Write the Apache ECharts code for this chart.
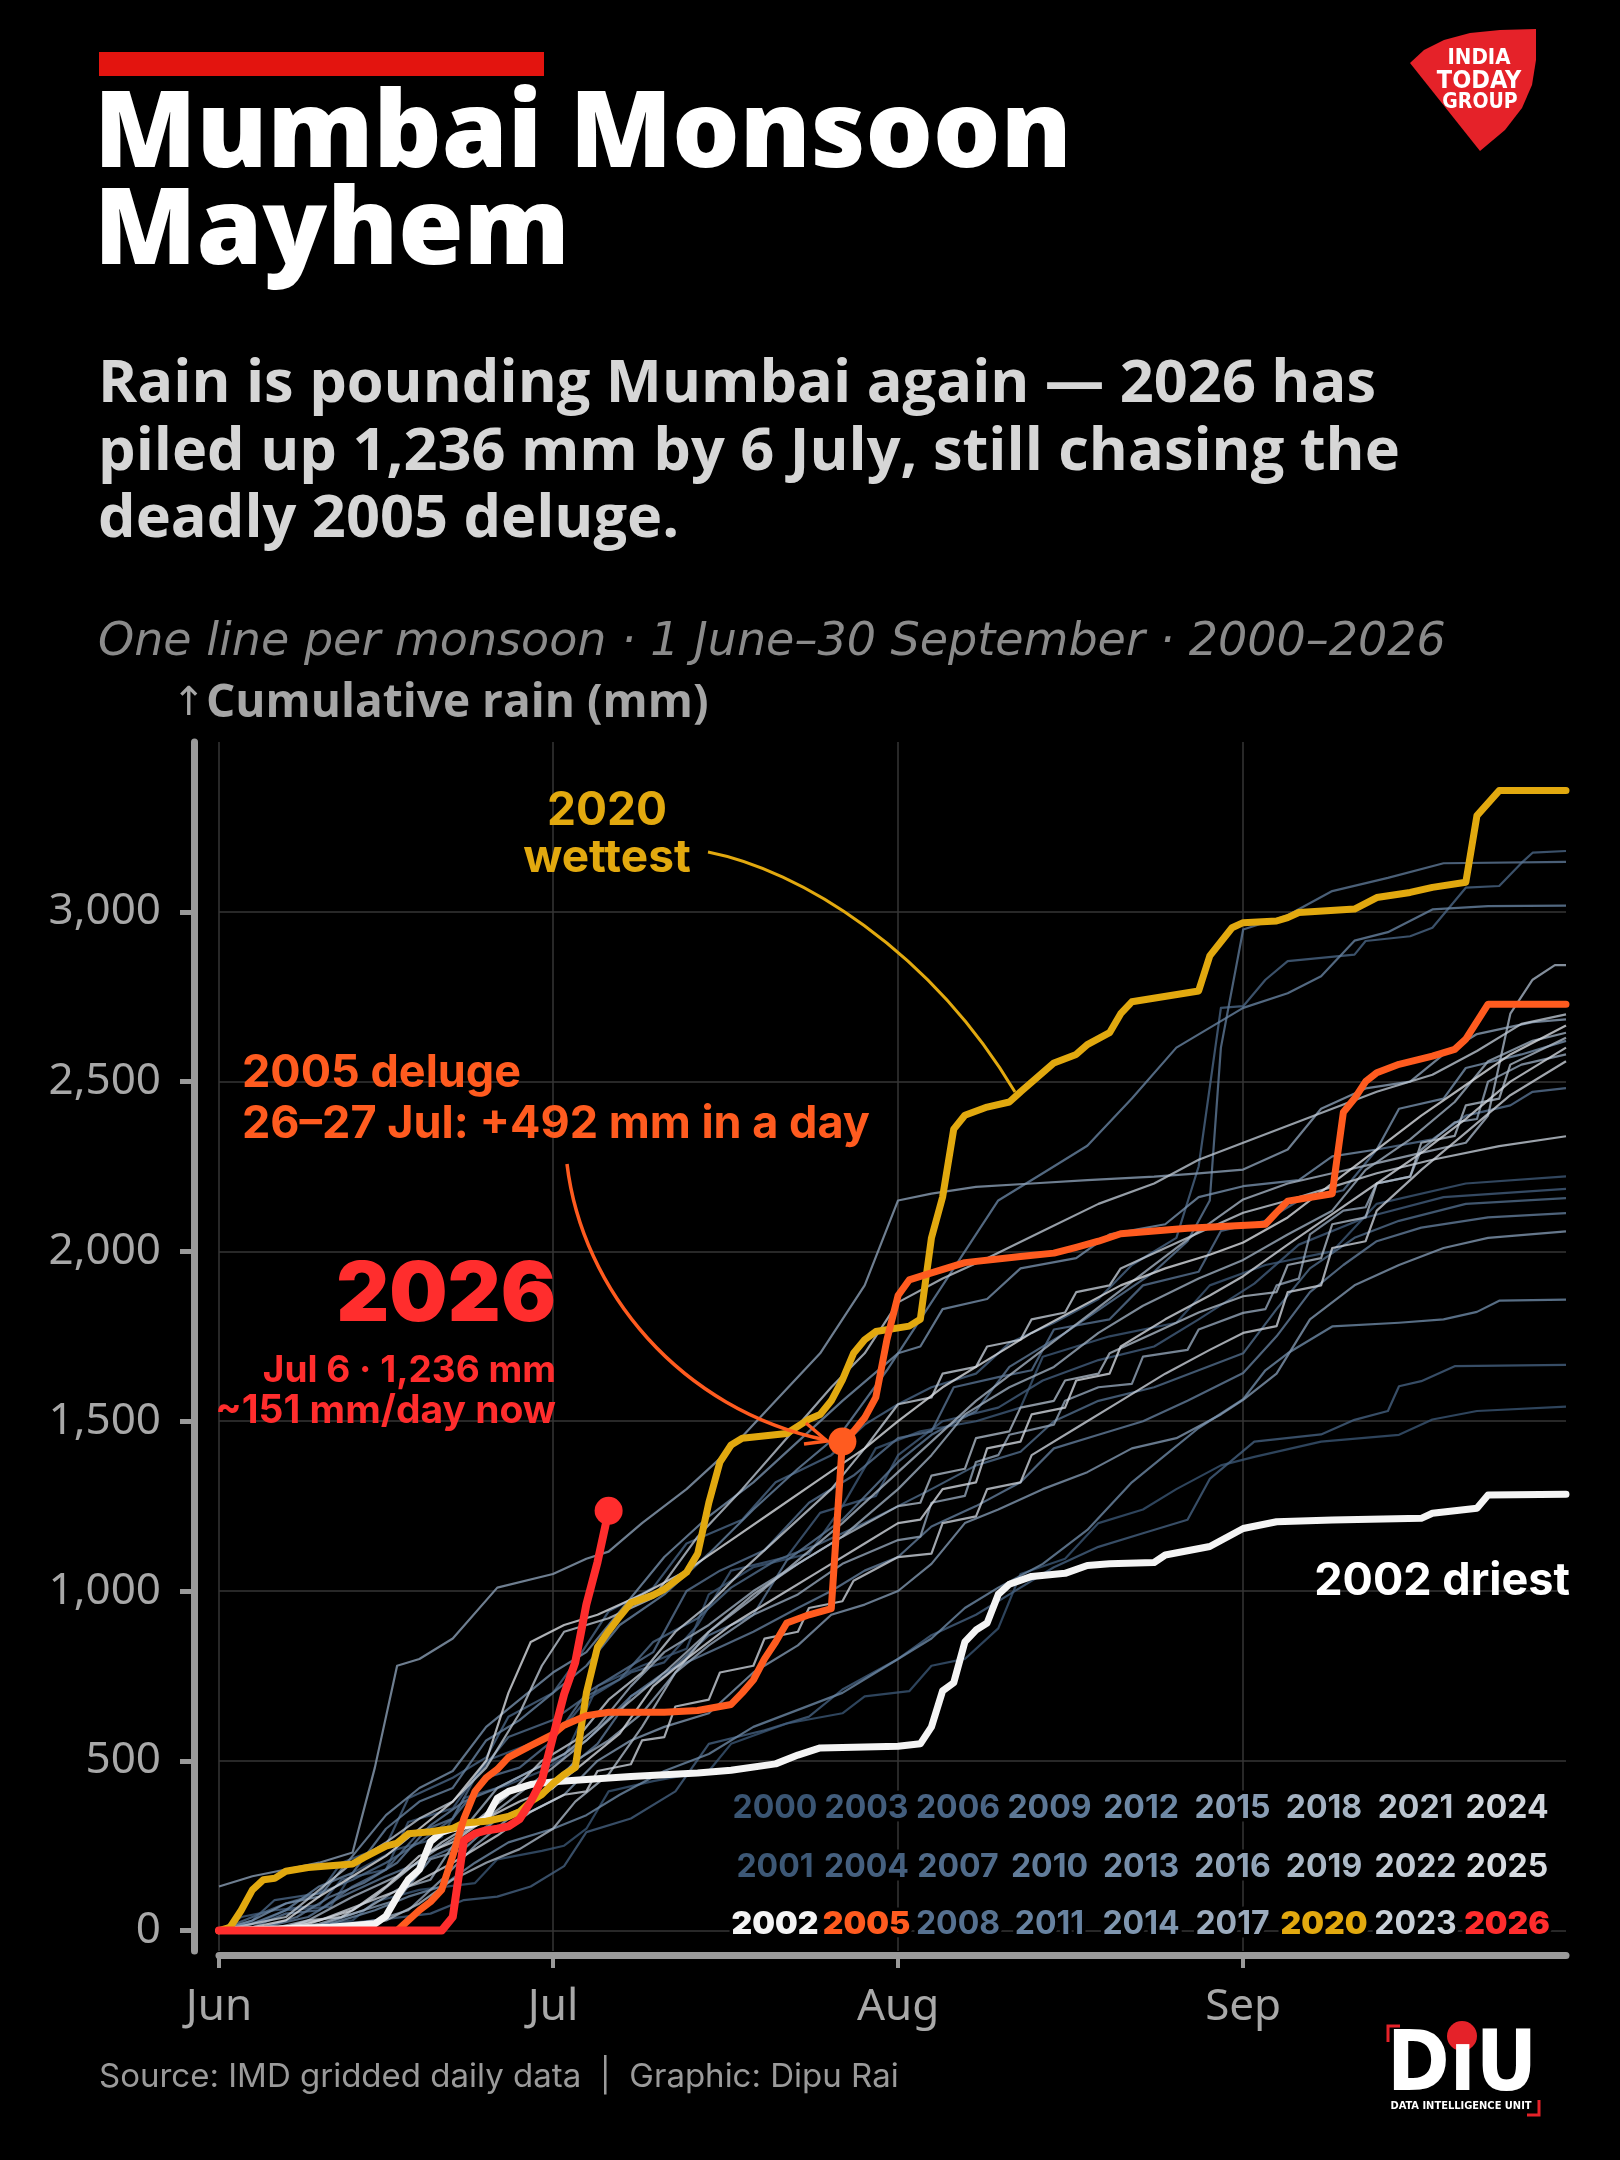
<!DOCTYPE html>
<html>
<head>
<meta charset="utf-8">
<title>Mumbai Monsoon Mayhem</title>
<script src="https://cdn.jsdelivr.net/npm/echarts@6/dist/echarts.min.js"></script>
<style>
  html, body { margin: 0; padding: 0; background: #000; }
  #chart { width: 1620px; height: 2160px; }
</style>
</head>
<body>
<div id="chart"></div>
<script>
// x = days since 1 June (0 = Jun 1, 121 = Sep 30), y = cumulative rain in mm
const monthDays = [0, 30, 61, 92];
const monthNames = ['Jun', 'Jul', 'Aug', 'Sep'];
const yTicks = [0, 500, 1000, 1500, 2000, 2500, 3000];
const years = [2000, 2001, 2002, 2003, 2004, 2005, 2006, 2007, 2008, 2009, 2010, 2011, 2012,
  2013, 2014, 2015, 2016, 2017, 2018, 2019, 2020, 2021, 2022, 2023, 2024, 2025, 2026];

// highlighted monsoons
const rain2002 = [[0,0],[10,10],[14,20],[15,43],[16,100],[17,150],[18,180],[19,262],[20,290],[21,300],[23,315],[24,330],[25,390],[26,410],[28,430],[30,438],[32,443],[37,454],[40,459],[43,464],[46,472],[50,491],[52,517],[54,538],[61,543],[63,550],[64,600],[65,706],[66,730],[67,850],[68,885],[69,906],[70,990],[71,1020],[73,1043],[76,1052],[78,1075],[80,1080],[84,1084],[85,1106],[89,1131],[92,1184],[95,1204],[100,1209],[108,1214],[109,1229],[113,1244],[114,1283],[121,1285]];
const rain2005 = [[0,0],[16,0],[17,30],[18,60],[19,85],[20,120],[21,220],[22,330],[23,410],[24,450],[25,475],[26,510],[28,545],[30,578],[31,605],[33,633],[35,643],[40,643],[43,648],[46,666],[47,700],[48,738],[49,800],[50,850],[51,906],[53,930],[55,948],[56,1440],[57,1470],[58,1510],[59,1570],[60,1740],[61,1870],[62,1916],[64,1937],[67,1967],[72,1985],[75,1995],[77,2012],[79,2030],[81,2052],[87,2068],[94,2080],[95,2115],[96,2148],[100,2170],[101,2410],[102,2450],[103,2500],[104,2526],[106,2551],[109,2575],[111,2595],[112,2625],[114,2728],[121,2728]];
const rain2020 = [[0,0],[1,10],[2,60],[3,120],[4,150],[5,154],[6,175],[8,186],[12,196],[13,215],[15,249],[16,258],[17,285],[19,291],[21,301],[22,317],[24,322],[26,336],[27,350],[28,380],[29,401],[30,433],[31,460],[32,480],[33,700],[34,835],[35,882],[36,925],[37,965],[39,988],[40,1005],[42,1055],[43,1110],[44,1260],[45,1380],[46,1430],[47,1450],[51,1464],[53,1506],[54,1520],[55,1560],[56,1622],[57,1700],[58,1740],[59,1764],[62,1780],[63,1800],[64,2040],[65,2160],[66,2360],[67,2401],[69,2425],[71,2440],[72,2470],[75,2555],[77,2580],[78,2609],[80,2644],[81,2700],[82,2735],[88,2767],[89,2870],[91,2953],[92,2968],[95,2973],[96,2983],[97,2998],[102,3008],[104,3042],[107,3057],[109,3072],[112,3087],[113,3283],[115,3357],[121,3357]];
const rain2026 = [[0,0],[20,0],[21,40],[22,265],[23,286],[24,295],[25,300],[26,307],[27,328],[28,380],[29,443],[30,570],[31,696],[32,790],[33,960],[34,1085],[35,1236]];

// the other monsoons
const rain2000 = [[0,0],[8,0],[9,15],[12,30],[14,85],[18,120],[23,140],[25,210],[29,235],[31,250],[33,300],[35,410],[39,440],[44,470],[46,550],[51,610],[56,640],[58,690],[62,705],[64,780],[67,800],[70,890],[72,1050],[76,1095],[79,1200],[83,1240],[86,1300],[90,1370],[93,1395],[99,1440],[106,1460],[109,1505],[113,1530],[121,1543]];
const rain2001 = [[0,0],[4,30],[6,60],[10,70],[12,170],[16,240],[20,275],[22,390],[26,430],[29,470],[31,510],[34,720],[38,780],[42,830],[44,990],[48,1070],[53,1110],[56,1250],[59,1420],[63,1470],[68,1500],[72,1540],[74,1690],[80,1750],[86,1790],[89,1900],[94,1960],[100,2000],[104,2140],[112,2200],[121,2221]];
const rain2003 = [[0,0],[2,40],[5,60],[9,75],[11,150],[15,180],[17,320],[21,360],[24,500],[28,550],[31,600],[33,680],[37,760],[40,790],[43,900],[46,1060],[51,1100],[54,1230],[59,1280],[61,1400],[65,1500],[70,1540],[74,1620],[79,1680],[84,1720],[88,1800],[93,1905],[97,2020],[103,2100],[110,2160],[121,2184]];
const rain2004 = [[0,0],[7,0],[11,20],[14,30],[19,50],[22,90],[25,100],[28,130],[31,190],[33,290],[37,330],[41,410],[44,550],[49,590],[53,630],[56,710],[61,800],[64,870],[68,930],[71,990],[75,1070],[79,1130],[83,1170],[87,1210],[89,1330],[93,1440],[99,1461],[102,1504],[105,1530],[106,1603],[108,1618],[111,1662],[121,1666]];
const rain2006 = [[0,0],[3,30],[5,90],[9,110],[11,200],[15,250],[17,390],[21,450],[24,510],[26,630],[30,700],[32,790],[35,940],[39,1010],[42,1140],[47,1210],[50,1320],[55,1400],[58,1490],[61,1550],[64,1600],[68,1640],[71,1730],[75,1790],[79,1860],[82,1960],[86,2040],[88,2250],[90,2717],[92,2722],[94,2800],[96,2855],[102,2874],[103,2914],[107,2928],[109,2953],[112,3071],[115,3076],[117,3144],[118,3174],[121,3179]];
const rain2007 = [[0,0],[3,40],[6,80],[9,110],[12,150],[15,200],[18,260],[21,330],[23,450],[26,570],[30,620],[33,690],[36,740],[39,850],[43,920],[46,1010],[50,1090],[54,1140],[58,1200],[61,1250],[64,1300],[68,1370],[72,1410],[75,1500],[79,1560],[84,1600],[88,1650],[92,1700],[95,1830],[98,1950],[102,2040],[106,2090],[112,2140],[121,2157]];
const rain2008 = [[0,0],[3,10],[6,50],[9,60],[12,130],[15,180],[18,290],[21,330],[24,450],[27,480],[30,560],[33,700],[36,760],[39,820],[42,1000],[45,1060],[49,1120],[53,1260],[57,1340],[61,1450],[64,1470],[66,1600],[70,1630],[73,1650],[75,1770],[80,1800],[83,1900],[88,1940],[90,2060],[94,2090],[97,2150],[101,2180],[104,2300],[109,2330],[112,2400],[116,2430],[118,2470],[121,2481]];
const rain2009 = [[0,0],[4,10],[8,40],[11,100],[15,160],[18,200],[22,260],[25,330],[28,370],[30,440],[34,550],[37,690],[40,750],[44,870],[48,930],[51,1090],[56,1210],[61,1380],[64,1460],[68,1530],[71,1660],[76,1760],[80,1850],[84,1940],[87,2030],[89,2150],[90,2600],[92,2948],[96,2990],[100,3061],[105,3100],[110,3143],[121,3147]];
const rain2010 = [[0,0],[4,10],[7,40],[10,100],[13,140],[16,200],[19,310],[22,380],[25,420],[28,470],[30,500],[33,560],[37,690],[40,760],[44,820],[48,880],[52,950],[55,1000],[58,1060],[61,1100],[64,1190],[68,1250],[72,1320],[75,1420],[79,1460],[83,1500],[87,1560],[92,1642],[95,1750],[98,1880],[101,1960],[104,2030],[108,2070],[114,2100],[121,2113]];
const rain2011 = [[0,0],[3,20],[6,60],[9,130],[12,170],[15,300],[18,380],[21,420],[24,560],[27,620],[30,700],[33,780],[36,900],[40,990],[44,1110],[48,1240],[52,1360],[56,1470],[60,1650],[63,1800],[66,1950],[70,2150],[74,2230],[78,2311],[82,2450],[86,2600],[92,2717],[96,2760],[99,2810],[102,2915],[105,2940],[109,3007],[114,3017],[121,3018]];
const rain2012 = [[0,0],[6,5],[10,20],[14,60],[17,100],[20,130],[23,200],[26,260],[30,300],[33,340],[36,400],[40,470],[44,520],[48,600],[52,650],[56,700],[61,800],[64,860],[67,950],[70,1010],[74,1080],[78,1180],[82,1320],[85,1400],[88,1480],[92,1565],[94,1650],[96,1700],[100,1779],[106,1790],[110,1800],[113,1822],[115,1855],[121,1858]];
const rain2013 = [[0,0],[3,30],[6,80],[9,100],[12,220],[15,340],[18,420],[21,470],[24,600],[27,680],[30,760],[33,820],[36,940],[40,1100],[44,1220],[48,1320],[52,1440],[56,1560],[61,1700],[63,1720],[65,1830],[69,1860],[72,1950],[77,1980],[80,2050],[85,2080],[88,2160],[92,2192],[97,2210],[100,2280],[104,2300],[106,2420],[110,2450],[112,2540],[117,2580],[121,2620]];
const rain2014 = [[0,0],[5,0],[9,15],[13,60],[16,90],[19,210],[22,240],[25,330],[28,350],[31,400],[34,500],[37,560],[40,600],[44,640],[48,760],[52,840],[55,930],[58,960],[61,1000],[64,1080],[67,1200],[70,1240],[74,1300],[78,1350],[82,1420],[86,1450],[90,1520],[92,1563],[95,1640],[98,1800],[102,1900],[106,1960],[110,2010],[114,2040],[121,2059]];
const rain2015 = [[0,130],[3,160],[6,180],[9,200],[12,230],[14,480],[16,780],[18,800],[21,860],[25,1010],[30,1050],[33,1095],[35,1116],[38,1200],[42,1300],[46,1420],[50,1560],[54,1700],[58,1900],[61,2150],[64,2170],[68,2190],[73,2200],[78,2210],[84,2220],[88,2230],[92,2241],[96,2300],[99,2420],[103,2480],[107,2500],[110,2580],[113,2640],[118,2675],[121,2683]];
const rain2016 = [[0,0],[6,0],[10,10],[14,30],[17,60],[20,150],[23,250],[26,330],[30,420],[32,500],[35,560],[38,640],[41,760],[44,840],[48,930],[52,990],[56,1080],[61,1150],[63,1160],[64,1260],[67,1280],[68,1380],[70,1400],[71,1460],[75,1490],[76,1560],[79,1600],[82,1610],[83,1690],[87,1710],[88,1770],[92,1819],[94,1830],[95,1900],[97,1920],[98,2050],[101,2120],[103,2130],[104,2200],[107,2220],[108,2300],[111,2380],[113,2390],[114,2500],[117,2550],[121,2580]];
const rain2017 = [[0,0],[5,0],[9,20],[13,60],[16,120],[19,150],[22,300],[25,420],[28,470],[31,520],[34,600],[37,720],[40,820],[44,900],[48,1000],[52,1080],[56,1160],[61,1300],[64,1400],[67,1520],[71,1600],[75,1660],[79,1760],[83,1840],[88,1920],[92,1975],[96,2050],[100,2120],[103,2240],[107,2330],[111,2440],[114,2560],[118,2620],[121,2644]];
const rain2018 = [[0,0],[4,0],[8,30],[12,100],[16,160],[20,250],[24,330],[28,430],[30,480],[33,560],[36,650],[40,760],[44,880],[48,980],[52,1090],[56,1200],[61,1350],[64,1440],[68,1560],[72,1660],[76,1760],[80,1860],[84,1960],[88,2060],[92,2153],[96,2200],[100,2230],[104,2260],[108,2290],[112,2320],[114,2400],[116,2700],[118,2800],[120,2843],[121,2843]];
const rain2019 = [[0,0],[7,0],[11,10],[15,30],[18,80],[21,150],[24,200],[27,240],[30,300],[32,380],[35,460],[38,600],[41,760],[44,880],[48,990],[52,1080],[56,1160],[61,1250],[63,1260],[64,1340],[67,1360],[68,1450],[71,1470],[72,1540],[75,1560],[76,1620],[79,1640],[80,1700],[84,1760],[88,1820],[92,1868],[95,1880],[96,1960],[99,1980],[100,2080],[103,2100],[104,2200],[107,2220],[108,2320],[111,2340],[112,2430],[115,2450],[116,2550],[121,2629]];
const rain2021 = [[0,0],[3,20],[6,40],[9,120],[12,200],[15,260],[18,330],[21,380],[24,480],[27,640],[29,780],[31,880],[35,920],[39,980],[43,1160],[47,1300],[51,1450],[55,1600],[58,1700],[61,1850],[65,1920],[69,1980],[74,2060],[79,2140],[84,2200],[88,2270],[92,2320],[96,2370],[100,2420],[104,2470],[109,2520],[113,2590],[117,2670],[121,2698]];
const rain2022 = [[0,0],[5,0],[8,30],[11,40],[14,100],[17,180],[20,260],[23,320],[26,400],[29,500],[32,560],[35,680],[38,760],[41,880],[44,960],[47,1060],[51,1180],[55,1300],[58,1420],[61,1550],[64,1570],[65,1640],[68,1660],[69,1720],[72,1740],[73,1800],[76,1820],[77,1880],[80,1900],[81,1950],[85,2010],[89,2070],[92,2114],[96,2150],[100,2190],[104,2230],[109,2270],[115,2310],[121,2339]];
const rain2023 = [[0,0],[5,5],[9,30],[13,80],[17,130],[21,200],[25,280],[28,350],[31,400],[33,410],[34,470],[37,490],[38,560],[40,570],[41,660],[44,680],[45,760],[48,780],[49,860],[52,880],[53,950],[56,970],[57,1030],[61,1100],[64,1110],[65,1200],[68,1220],[69,1300],[72,1320],[73,1400],[77,1480],[81,1560],[85,1640],[89,1710],[92,1760],[95,1780],[96,1880],[99,1900],[100,2010],[103,2030],[104,2120],[108,2240],[112,2350],[116,2460],[121,2560]];
const rain2024 = [[0,0],[4,0],[8,20],[12,60],[15,130],[18,220],[21,260],[24,330],[27,380],[30,420],[33,500],[36,580],[39,720],[42,800],[46,900],[50,980],[54,1060],[58,1140],[61,1200],[63,1210],[65,1300],[68,1320],[69,1420],[72,1440],[73,1520],[76,1540],[77,1620],[80,1640],[81,1720],[85,1800],[89,1870],[92,1927],[96,2020],[100,2110],[104,2200],[108,2290],[112,2390],[116,2500],[121,2600]];
const rain2025 = [[0,0],[3,10],[6,30],[9,100],[12,160],[15,220],[18,300],[21,380],[24,500],[26,700],[28,850],[31,900],[34,930],[38,990],[42,1060],[46,1150],[50,1240],[54,1330],[58,1420],[61,1500],[65,1600],[69,1680],[73,1760],[77,1830],[81,1900],[85,1950],[89,1990],[92,2026],[96,2100],[100,2200],[104,2300],[108,2400],[112,2490],[116,2580],[121,2665]];

const rainByYear = {
  2000: rain2000, 2001: rain2001, 2002: rain2002, 2003: rain2003, 2004: rain2004, 2005: rain2005,
  2006: rain2006, 2007: rain2007, 2008: rain2008, 2009: rain2009, 2010: rain2010, 2011: rain2011,
  2012: rain2012, 2013: rain2013, 2014: rain2014, 2015: rain2015, 2016: rain2016, 2017: rain2017,
  2018: rain2018, 2019: rain2019, 2020: rain2020, 2021: rain2021, 2022: rain2022, 2023: rain2023,
  2024: rain2024, 2025: rain2025, 2026: rain2026
};

const highlight = { 2002: '#f4f4f4', 2005: '#ff5b1f', 2020: '#e2a90f', 2026: '#ff2d2d' };

// slate -> pale grey ramp for the ordinary years
const ramp = [[0, [58, 85, 115]], [6, [74, 101, 133]], [12, [109, 136, 165]], [18, [164, 178, 194]], [25, [216, 220, 225]]];
function yearColor(y) {
  if (highlight[y]) return highlight[y];
  const i = y - 2000;
  for (let k = 0; k < ramp.length - 1; k++) {
    const [a, ca] = ramp[k], [b, cb] = ramp[k + 1];
    if (i >= a && i <= b) {
      const t = (i - a) / (b - a);
      const c = ca.map((v, j) => Math.round(v + (cb[j] - v) * t));
      return 'rgb(' + c.join(',') + ')';
    }
  }
  return '#ccc';
}

const series = [];
years.filter(y => !highlight[y]).forEach(y => {
  series.push({
    name: String(y), type: 'line', data: rainByYear[y], showSymbol: false, silent: true,
    lineStyle: { color: yearColor(y), width: 2.2, opacity: 0.8, join: 'round' }
  });
});
[2002, 2020, 2005, 2026].forEach(y => {
  series.push({
    name: String(y), type: 'line', data: rainByYear[y], showSymbol: false, silent: true,
    lineStyle: { color: highlight[y], width: y === 2026 ? 8 : 7, join: 'round', cap: 'round' }
  });
});
// dots: top of the 26-27 Jul jump, and today's 2026 total
series.push({
  type: 'scatter', silent: true, symbolSize: 28, z: 5,
  data: [
    { value: rain2005.find(p => p[0] === 56), itemStyle: { color: highlight[2005], opacity: 1 } },
    { value: rain2026[rain2026.length - 1], itemStyle: { color: highlight[2026], opacity: 1 } }
  ]
});

const FONT = 'Inter, "Noto Sans", sans-serif';
const WIDE = '"Open Sans", Inter, sans-serif';
function txt(text, x, y, font, color, align) {
  return {
    type: 'text', x: x, y: y, z: 50,
    style: { text: text, fill: color, font: font, textAlign: align || 'left', textVerticalAlign: 'middle' }
  };
}

const graphics = [
  { type: 'rect', shape: { x: 99, y: 52, width: 445, height: 24 }, style: { fill: '#e3140f' } },
  txt('Mumbai Monsoon', 94, 137, '800 106px ' + WIDE, '#ffffff'),
  txt('Mayhem', 94, 234, '800 106px ' + WIDE, '#ffffff'),
  txt('Rain is pounding Mumbai again \u2014 2026 has', 98, 385, '700 59.5px ' + WIDE, '#d6d6d6'),
  txt('piled up 1,236 mm by 6 July, still chasing the', 98, 453, '700 59.5px ' + WIDE, '#d6d6d6'),
  txt('deadly 2005 deluge.', 98, 520, '700 59.5px ' + WIDE, '#d6d6d6'),
  txt('One line per monsoon \u00b7 1 June\u201330 September \u00b7 2000\u20132026', 98, 643, 'italic 200 46px "DejaVu Sans", sans-serif', '#8a8a8a'),
  txt('\u2191', 172, 705, '400 40px "DejaVu Sans"', '#a6a6a6'),
  txt('Cumulative rain (mm)', 206, 704, '700 46px ' + WIDE, '#a6a6a6'),
  // annotations
  txt('2020', 607, 811, '700 46px ' + FONT, highlight[2020], 'center'),
  txt('wettest', 607, 858, '700 46px ' + FONT, highlight[2020], 'center'),
  { type: 'bezierCurve', z: 40, shape: { x1: 708, y1: 852, cpx1: 800, cpy1: 870, cpx2: 930, cpy2: 950, x2: 1015, y2: 1092 }, style: { stroke: highlight[2020], lineWidth: 3, fill: null } },
  txt('2005 deluge', 242, 1073, '700 45px ' + FONT, highlight[2005]),
  txt('26\u201327 Jul: +492 mm in a day', 242, 1124, '700 45px ' + FONT, highlight[2005]),
  { type: 'bezierCurve', z: 40, shape: { x1: 567, y1: 1164, cpx1: 582, cpy1: 1290, cpx2: 680, cpy2: 1410, x2: 826, y2: 1440 }, style: { stroke: highlight[2005], lineWidth: 3.5, fill: null } },
  { type: 'polyline', z: 40, shape: { points: [[806, 1423], [827, 1441], [804, 1444]] }, style: { stroke: highlight[2005], lineWidth: 3.5, fill: null } },
  txt('2026', 556, 1296, '900 82px ' + FONT, highlight[2026], 'right'),
  txt('Jul 6 \u00b7 1,236 mm', 556, 1371, '700 37px ' + FONT, highlight[2026], 'right'),
  txt('~151 mm/day now', 556, 1411, '700 39px ' + FONT, highlight[2026], 'right'),
  txt('2002 driest', 1570, 1581, '700 45px ' + FONT, '#ffffff', 'right'),
  txt('Source: IMD gridded daily data  |  Graphic: Dipu Rai', 99, 2077, '400 33px ' + FONT, '#9a9a9a'),
  // India Today Group mark
  { type: 'polygon', shape: { points: [[1410, 63], [1424, 50], [1444, 40], [1470, 33], [1500, 30], [1536, 29], [1536, 60], [1532, 85], [1522, 108], [1505, 130], [1480, 151]] }, style: { fill: '#e52229' } },
  txt('INDIA', 1479, 58, 'bold 22px "DejaVu Sans Condensed"', '#ffffff', 'center'),
  txt('TODAY', 1479, 81, 'bold 25px "DejaVu Sans Condensed"', '#ffffff', 'center'),
  txt('GROUP', 1480, 103, 'bold 21px "DejaVu Sans Condensed"', '#ffffff', 'center'),
  // DIU mark
  { type: 'polyline', shape: { points: [[1388, 2042], [1388, 2026], [1400, 2026]] }, style: { stroke: '#e52229', lineWidth: 3, fill: null } },
  { type: 'polyline', shape: { points: [[1527, 2115], [1539, 2115], [1539, 2100]] }, style: { stroke: '#e52229', lineWidth: 3, fill: null } },
  txt('D\u0131U', 1462, 2068, 'bold 84px "DejaVu Sans Condensed"', '#ffffff', 'center'),
  { type: 'circle', shape: { cx: 1462, cy: 2036, r: 15 }, style: { fill: '#e52229' } },
  txt('DATA INTELLIGENCE UNIT', 1461, 2106, 'bold 11px "DejaVu Sans Condensed"', '#ffffff', 'center')
];

// year key: 9 columns x 3 rows, years running down the columns
const keyRows = [1808, 1867, 1924];
years.forEach((y, i) => {
  const col = Math.floor(i / 3), row = i % 3;
  graphics.push({
    type: 'text', x: 775 + col * 91.5, y: keyRows[row], z: 60,
    style: {
      text: String(y), fill: yearColor(y),
      font: (highlight[y] ? 900 : 700) + ' 32px ' + FONT,
      textAlign: 'center', textVerticalAlign: 'middle',
      stroke: '#000', lineWidth: 7
    }
  });
});

const chart = echarts.init(document.getElementById('chart'), null, { renderer: 'canvas' });
chart.setOption({
  backgroundColor: '#000',
  animation: false,
  grid: { left: 219, right: 54, top: 742, bottom: 209 },
  xAxis: {
    type: 'value', min: 0, max: 121, offset: 4,
    axisLine: { show: true, onZero: false, lineStyle: { color: '#9a9a9a', width: 7 } },
    axisTick: { show: true, length: 13, lineStyle: { color: '#9a9a9a', width: 4 }, customValues: monthDays },
    axisLabel: {
      customValues: monthDays, margin: 30, color: '#a8a8a8', fontSize: 44, fontFamily: '"Noto Sans", sans-serif',
      formatter: v => monthNames[monthDays.indexOf(v)] || ''
    },
    splitLine: { show: true, lineStyle: { color: '#363636', width: 1.5 } }
  },
  yAxis: {
    type: 'value', min: -60, max: 3500, offset: 25,
    axisLine: { show: true, onZero: false, lineStyle: { color: '#9a9a9a', width: 7 } },
    axisTick: { show: true, length: 14, lineStyle: { color: '#9a9a9a', width: 5 }, customValues: yTicks },
    axisLabel: {
      customValues: yTicks, margin: 33, color: '#a8a8a8', fontSize: 44, fontFamily: '"Noto Sans", sans-serif',
      formatter: v => v.toLocaleString('en-US')
    },
    splitLine: { show: true, lineStyle: { color: '#363636', width: 1.5 } }
  },
  series: series,
  graphic: { elements: graphics }
});
</script>
</body>
</html>
